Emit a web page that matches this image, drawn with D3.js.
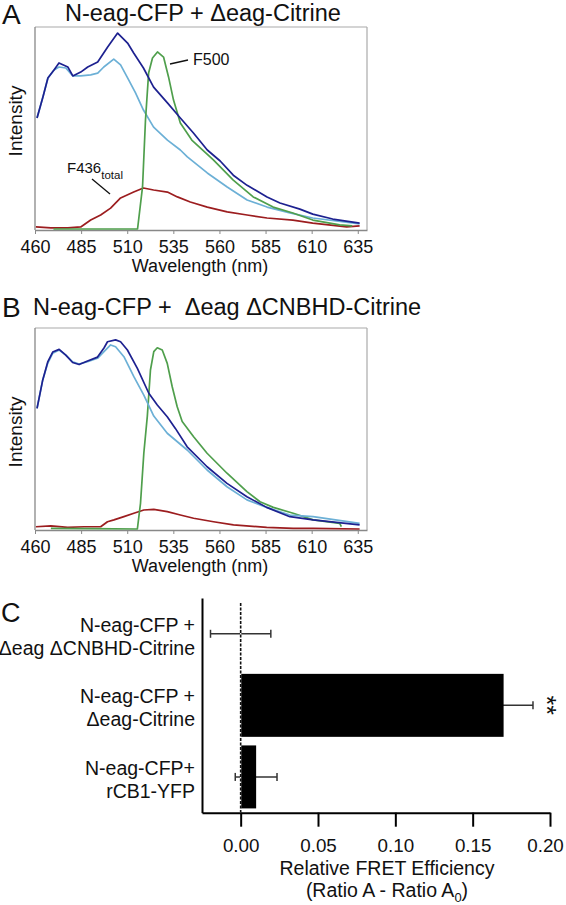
<!DOCTYPE html>
<html><head><meta charset="utf-8">
<script src="https://cdn.jsdelivr.net/npm/d3@7"></script>
<style>body{margin:0;background:#fff}svg{display:block}text{font-family:"Liberation Sans",Arial,Helvetica,sans-serif;fill:#111}</style>
</head><body>
<svg id="c" width="566" height="905"></svg>
<script>
// ---------- DATA ----------
const wavelengthTicks = [460, 485, 510, 535, 560, 585, 610, 635];

// Panel A spectra: [wavelength nm, intensity (0 = axis bottom, 100 = axis top)]
const aDarkBlue = [[461.1,55.2],[464.3,65.5],[467.0,74.9],[470.3,78.8],[473.0,82.3],[477.8,80.3],[480.5,75.9],[484.8,77.8],[488.6,80.3],[494.0,82.8],[499.4,90.1],[504.8,97.0],[510.2,92.1],[513.5,87.2],[518.8,79.8],[524.3,70.4],[531.8,62.6],[538.8,55.2],[545.9,47.8],[553.4,39.4],[560.4,34.0],[567.5,27.0],[575.0,22.0],[585.8,16.3],[592.8,13.3],[603.6,10.3],[610.6,7.8],[621.4,5.4],[636.0,3.4]];
const aLightBlue = [[461.1,55.2],[464.3,65.5],[467.0,74.9],[470.3,78.8],[473.0,80.3],[476.7,79.8],[480.5,75.9],[484.8,75.9],[490.2,76.4],[494.0,77.3],[497.3,80.3],[502.7,84.2],[506.4,81.3],[510.2,74.9],[514.5,67.5],[518.8,59.1],[524.3,50.7],[531.8,44.3],[538.8,39.4],[542.6,36.0],[553.4,28.1],[564.2,21.2],[575.0,14.8],[585.8,11.3],[598.2,8.4],[610.6,5.9],[636.0,3.0]];
const aGreen = [[470.0,0.5],[490.0,0.5],[515.6,0.5],[518.3,21.2],[519.9,54.2],[521.6,77.3],[523.7,84.7],[526.4,87.7],[529.7,85.2],[532.4,75.4],[535.1,64.0],[538.8,52.7],[545.0,44.3],[556.7,34.5],[567.5,24.6],[578.3,16.3],[589.1,11.3],[599.8,8.4],[610.6,4.9],[625.2,2.5],[632.0,2.0]];
const aRed = [[460.5,1.5],[468.6,1.0],[477.8,1.0],[484.8,1.5],[490.2,4.9],[495.6,7.4],[501.0,10.8],[506.4,15.8],[513.5,18.7],[518.8,20.7],[524.3,19.7],[531.8,18.7],[537.2,16.3],[544.2,13.8],[553.4,11.3],[564.2,8.9],[575.0,7.4],[585.8,5.9],[599.8,4.9],[610.6,3.4],[629.0,1.5],[636.0,2.0]];

// Panel B spectra
const bDarkBlue = [[461.1,60.2],[464.2,74.3],[466.9,83.2],[469.6,88.1],[473.1,89.4],[476.7,86.6],[480.4,82.9],[483.9,81.9],[488.5,83.7],[493.9,85.6],[497.4,90.1],[499.3,93.2],[503.7,94.1],[506.4,93.2],[510.1,89.1],[515.5,80.0],[521.7,67.7],[526.3,61.9],[531.7,56.1],[536.1,50.3],[542.5,41.2],[553.3,31.3],[564.1,23.1],[574.9,16.5],[585.6,11.2],[598.2,6.6],[610.8,5.0],[636.0,2.5]];
const bLightBlue = [[461.1,60.2],[464.2,74.3],[466.9,82.5],[469.6,87.5],[473.1,89.1],[476.7,86.6],[480.4,83.3],[483.9,82.2],[488.5,83.3],[493.9,85.0],[497.4,88.3],[501.0,91.6],[503.7,90.7],[508.2,85.8],[513.6,75.9],[519.0,66.8],[524.4,56.4],[531.7,47.9],[542.5,39.6],[553.3,29.7],[564.1,21.4],[574.9,14.9],[585.6,11.2],[598.2,7.4],[610.8,6.6],[636.0,3.3]];
const bGreen = [[468.6,0.8],[490.2,0.7],[515.5,0.5],[517.2,13.2],[519.0,38.0],[520.9,56.4],[522.6,79.2],[524.4,88.3],[526.3,90.2],[529.0,89.1],[531.7,82.5],[534.4,70.9],[537.1,61.0],[539.8,53.7],[546.0,46.2],[553.3,38.0],[564.1,28.1],[574.9,19.0],[582.0,14.0],[589.2,11.2],[600.0,8.3],[610.8,5.0],[625.2,3.3],[626.1,1.7]];
const bRed = [[460.5,1.6],[468.6,2.0],[477.7,1.3],[486.6,1.6],[495.6,1.6],[499.3,4.1],[502.8,5.0],[508.2,6.6],[513.6,8.3],[519.0,9.9],[524.4,10.2],[531.7,9.1],[538.8,7.4],[546.0,5.8],[556.8,4.1],[567.6,2.5],[585.6,1.3],[600.0,0.8],[610.8,0.8],[636.0,0.5]];

// Panel C bar chart
const cCategories = [["N-eag-CFP +", "\u0394eag \u0394CNBHD-Citrine"], ["N-eag-CFP +", "\u0394eag-Citrine"], ["N-eag-CFP+", "rCB1-YFP"]];
const cValues = [0.0, 0.17, 0.01];
const cErrors = [0.0195, 0.019, 0.0135];
const cTicks = [0.00, 0.05, 0.10, 0.15, 0.20];

// ---------- STYLE ----------
const COL = {dark: "#1d2190", light: "#6cb0d6", green: "#4f9f4c", red: "#9c1d1f"};
const FONT = '"Liberation Sans",Arial,Helvetica,sans-serif';
const svg = d3.select("#c");

function spectrumPanel(o) {
  const x = d3.scaleLinear().domain([460, 640]).range([35, 367]);
  const y = d3.scaleLinear().domain([0, 100]).range([o.bottom, o.top]);
  const g = svg.append("g");
  // frame
  g.append("line").attr("x1", x.range()[0]).attr("x2", x.range()[1]).attr("y1", o.top).attr("y2", o.top).attr("stroke", "#aaa").attr("stroke-width", 1.2);
  g.append("line").attr("x1", x.range()[1]).attr("x2", x.range()[1]).attr("y1", o.top).attr("y2", o.bottom).attr("stroke", "#aaa").attr("stroke-width", 1.2);
  g.append("line").attr("x1", x.range()[0]).attr("x2", x.range()[0]).attr("y1", o.top).attr("y2", o.bottom).attr("stroke", "#888").attr("stroke-width", 1.3);
  const ax = g.append("g").attr("transform", `translate(0,${o.bottom})`)
    .call(d3.axisBottom(x).tickValues(wavelengthTicks).tickSize(4).tickSizeOuter(0).tickPadding(6).tickFormat(d3.format("d")));
  ax.select(".domain").attr("stroke", "#888").attr("stroke-width", 1.3);
  ax.selectAll(".tick line").attr("stroke", "#888");
  ax.selectAll("text").attr("font-size", 18).attr("font-family", FONT).attr("fill", "#111");
  // lines
  const line = d3.line().x(d => x(d[0])).y(d => y(d[1]));
  o.series.forEach(s => {
    g.append("path").datum(s.data).attr("d", line).attr("fill", "none")
      .attr("stroke", s.color).attr("stroke-width", 1.7).attr("stroke-linejoin", "round");
  });
  // labels
  g.append("text").attr("x", 200).attr("y", o.bottom + 42).attr("text-anchor", "middle").attr("font-size", 18).text("Wavelength (nm)");
  g.append("text").attr("transform", `translate(22,${o.ylabelCy}) rotate(-90)`).attr("text-anchor", "middle").attr("font-size", 19).text("Intensity");
  g.append("text").attr("x", 2).attr("y", o.letterY).attr("font-size", 28).text(o.letter);
  g.append("text").attr("x", o.titleX).attr("y", o.titleY).attr("font-size", 23.5).style("white-space", "pre").text(o.title);
  return {g, x, y};
}

const A = spectrumPanel({top: 27, bottom: 230, letter: "A", letterY: 24, title: "N-eag-CFP + \u0394eag-Citrine", titleX: 65, titleY: 21, ylabelCy: 121,
  series: [{data: aRed, color: COL.red}, {data: aLightBlue, color: COL.light}, {data: aGreen, color: COL.green}, {data: aDarkBlue, color: COL.dark}]});
// annotations A
A.g.append("line").attr("x1", 170).attr("y1", 64).attr("x2", 188).attr("y2", 60).attr("stroke", "#111").attr("stroke-width", 1.3);
A.g.append("text").attr("x", 193).attr("y", 65).attr("font-size", 16).text("F500");
A.g.append("line").attr("x1", 92).attr("y1", 179).attr("x2", 110).attr("y2", 194).attr("stroke", "#111").attr("stroke-width", 1.3);
const f436 = A.g.append("text").attr("x", 67).attr("y", 173).attr("font-size", 15).text("F436");
f436.append("tspan").attr("font-size", 11.5).attr("dy", 6).text("total");

const B = spectrumPanel({top: 328, bottom: 530, letter: "B", letterY: 317, title: "N-eag-CFP +  \u0394eag \u0394CNBHD-Citrine", titleX: 33, titleY: 315, ylabelCy: 432,
  series: [{data: bRed, color: COL.red}, {data: bGreen, color: COL.green}, {data: bLightBlue, color: COL.light}, {data: bDarkBlue, color: COL.dark}]});

// ---------- Panel C ----------
const xC = d3.scaleLinear().domain([-0.025, 0.2]).range([202, 550]);
const yC = d3.scaleBand().domain(d3.range(cCategories.length)).range([598, 812.7]).paddingInner(0.12).paddingOuter(0.06);
const gC = svg.append("g");
gC.append("text").attr("x", 1).attr("y", 622).attr("font-size", 27).text("C");

// error bars (drawn beneath the bars)
cValues.forEach((v, i) => {
  const cy = yC(i) + yC.bandwidth() / 2, e = cErrors[i];
  const eg = gC.append("g").attr("stroke", "#333").attr("stroke-width", 1.5);
  eg.append("line").attr("x1", xC(v - e)).attr("x2", xC(v + e)).attr("y1", cy).attr("y2", cy);
  eg.append("line").attr("x1", xC(v - e)).attr("x2", xC(v - e)).attr("y1", cy - 4).attr("y2", cy + 4);
  eg.append("line").attr("x1", xC(v + e)).attr("x2", xC(v + e)).attr("y1", cy - 4).attr("y2", cy + 4);
});

// bars
gC.selectAll("rect.bar").data(cValues).join("rect").attr("class", "bar")
  .attr("x", d => xC(Math.min(0, d))).attr("width", d => Math.abs(xC(d) - xC(0)))
  .attr("y", (d, i) => yC(i)).attr("height", yC.bandwidth()).attr("fill", "#000");

// zero dashed line
gC.append("line").attr("x1", xC(0)).attr("x2", xC(0)).attr("y1", 603).attr("y2", 812).attr("stroke", "#fff").attr("stroke-width", 1.2);
gC.append("line").attr("x1", xC(0)).attr("x2", xC(0)).attr("y1", 603).attr("y2", 812).attr("stroke", "#111").attr("stroke-width", 1.6).attr("stroke-dasharray", "3,1.5");

// significance
gC.append("text").attr("transform", `translate(538,${yC(1) + yC.bandwidth() / 2}) rotate(90)`).attr("text-anchor", "middle").attr("font-size", 25).text("**");

// axes
const axC = gC.append("g").attr("transform", "translate(0,812.7)")
  .call(d3.axisBottom(xC).tickValues(cTicks).tickSize(14).tickSizeOuter(0).tickPadding(12).tickFormat(d3.format(".2f")));
axC.select(".domain").attr("stroke", "#000").attr("stroke-width", 2);
axC.selectAll(".tick line").attr("stroke", "#000").attr("stroke-width", 2);
axC.selectAll("text").attr("font-size", 18.8).attr("font-family", FONT).attr("fill", "#111")
  .attr("dx", d => d === cTicks[cTicks.length - 1] ? -5 : 0);
const ayC = gC.append("g").attr("transform", "translate(202,0)")
  .call(d3.axisLeft(yC).tickSize(0).tickSizeOuter(0).tickFormat(""));
ayC.select(".domain").attr("stroke", "#000").attr("stroke-width", 2);

// category labels
cCategories.forEach((lines, i) => {
  const cy = yC(i) + yC.bandwidth() / 2;
  const t = gC.append("text").attr("text-anchor", "end").attr("font-size", 19.5);
  t.append("tspan").attr("x", 195).attr("y", cy - 2).text(lines[0]);
  t.append("tspan").attr("x", 195).attr("y", cy + 21).text(lines[1]);
});

// x title
gC.append("text").attr("x", 387).attr("y", 875).attr("text-anchor", "middle").attr("font-size", 19.5).text("Relative FRET Efficiency");
const t2 = gC.append("text").attr("x", 387).attr("y", 897).attr("text-anchor", "middle").attr("font-size", 19.5);
t2.append("tspan").text("(Ratio A - Ratio A");
t2.append("tspan").attr("font-size", 13).attr("dy", 5).text("0");
t2.append("tspan").attr("dy", -5).text(")");
</script>
</body></html>
